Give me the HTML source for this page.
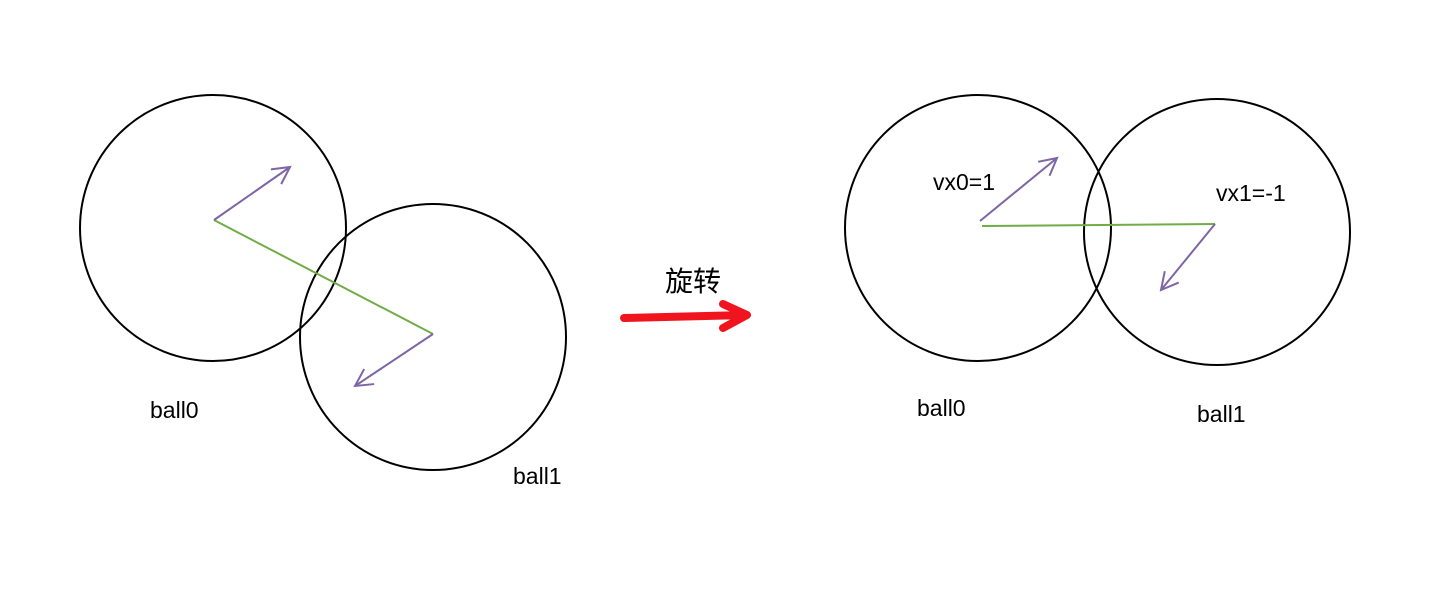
<!DOCTYPE html>
<html><head><meta charset="utf-8"><style>
html,body{margin:0;padding:0;background:#fff;}
svg{display:block;}
text{font-family:"Liberation Sans","Noto Sans CJK SC",sans-serif;fill:#000;}
</style></head><body>
<svg width="1450" height="594" viewBox="0 0 1450 594">
<defs>
<marker id="pa" markerWidth="22" markerHeight="22" refX="18" refY="11" orient="auto" markerUnits="userSpaceOnUse">
<path d="M1,2 L18,11 L1,20" fill="none" stroke="#7e65a6" stroke-width="2"/>
</marker>
</defs>
<g>
<circle cx="213" cy="228" r="133" fill="none" stroke="#000" stroke-width="2"/>
<circle cx="433" cy="337" r="133" fill="none" stroke="#000" stroke-width="2"/>
<line x1="214" y1="220" x2="433" y2="334" stroke="#70ad47" stroke-width="2"/>
<line x1="214" y1="220" x2="290" y2="167" stroke="#7e65a6" stroke-width="2" marker-end="url(#pa)"/>
<line x1="433" y1="334" x2="355" y2="386" stroke="#7e65a6" stroke-width="2" marker-end="url(#pa)"/>
<text x="150" y="418" font-size="23">ball0</text>
<text x="513" y="484" font-size="23">ball1</text>
</g>
<g>
<text x="665" y="291" font-size="28">旋转</text>
<path d="M624,318 L746,315 M723,304 L747,315 L723,328" fill="none" stroke="#f0141e" stroke-width="8" stroke-linecap="round" stroke-linejoin="round"/>
</g>
<g>
<circle cx="978" cy="228" r="133" fill="none" stroke="#000" stroke-width="2"/>
<circle cx="1217" cy="232" r="133" fill="none" stroke="#000" stroke-width="2"/>
<line x1="982" y1="226" x2="1215" y2="224" stroke="#70ad47" stroke-width="2"/>
<line x1="980" y1="221" x2="1057" y2="158" stroke="#7e65a6" stroke-width="2" marker-end="url(#pa)"/>
<line x1="1215" y1="224" x2="1161" y2="290" stroke="#7e65a6" stroke-width="2" marker-end="url(#pa)"/>
<text x="933" y="190" font-size="23">vx0=1</text>
<text x="1216" y="201" font-size="23">vx1=-1</text>
<text x="917" y="416" font-size="23">ball0</text>
<text x="1197" y="422" font-size="23">ball1</text>
</g>
</svg>
</body></html>
